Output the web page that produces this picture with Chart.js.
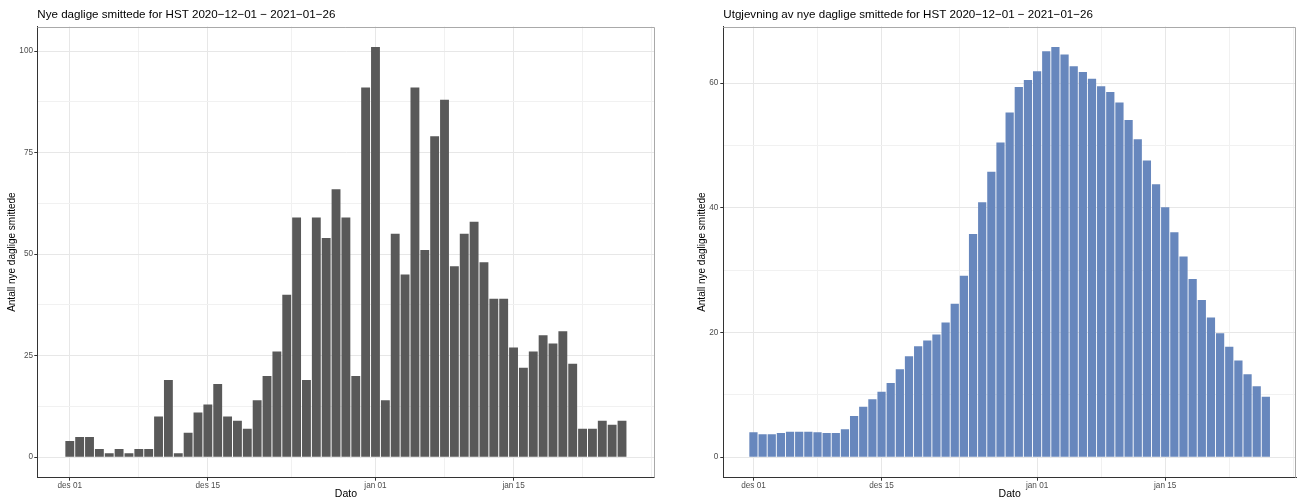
<!DOCTYPE html>
<html>
<head>
<meta charset="utf-8">
<script src="https://cdn.jsdelivr.net/npm/chart.js@4.4.1/dist/chart.umd.min.js"></script>
<style>
  html, body { margin: 0; padding: 0; background: #ffffff; }
  #wrap { position: relative; width: 1298px; height: 501px; }
  .panel { position: absolute; top: 0; height: 501px; }
  canvas { display: block; }
</style>
</head>
<body>
<div id="wrap">
  <div class="panel" style="left:0;width:660px"><canvas id="daily" width="660" height="501"></canvas></div>
  <div class="panel" style="left:660px;width:638px"><canvas id="smooth" width="638" height="501"></canvas></div>
</div>
<script>
// Reporting days
const dates = [
  '2020-12-01','2020-12-02','2020-12-03','2020-12-04','2020-12-05','2020-12-06','2020-12-07',
  '2020-12-08','2020-12-09','2020-12-10','2020-12-11','2020-12-12','2020-12-13','2020-12-14',
  '2020-12-15','2020-12-16','2020-12-17','2020-12-18','2020-12-19','2020-12-20','2020-12-21',
  '2020-12-22','2020-12-23','2020-12-24','2020-12-25','2020-12-26','2020-12-27','2020-12-28',
  '2020-12-29','2020-12-30','2020-12-31','2021-01-01','2021-01-02','2021-01-03','2021-01-04',
  '2021-01-05','2021-01-06','2021-01-07','2021-01-08','2021-01-09','2021-01-10','2021-01-11',
  '2021-01-12','2021-01-13','2021-01-14','2021-01-15','2021-01-16','2021-01-17','2021-01-18',
  '2021-01-19','2021-01-20','2021-01-21','2021-01-22','2021-01-23','2021-01-24','2021-01-25',
  '2021-01-26'
];

// New daily cases
const dailyCases = [
  4, 5, 5, 2, 1, 2, 1, 2, 2, 10, 19, 1, 6, 11,
  13, 18, 10, 9, 7, 14, 20, 26, 40, 59, 19, 59, 54, 66,
  59, 20, 91, 101, 14, 55, 45, 91, 51, 79, 88, 47, 55, 58,
  48, 39, 39, 27, 22, 26, 30, 28, 31, 23, 7, 7, 9, 8, 9
];

// Smoothed new daily cases
const smoothedCases = [
  4.0, 3.7, 3.7, 3.9, 4.1, 4.1, 4.1, 4.0, 3.9, 3.9, 4.5, 6.6, 8.1, 9.3,
  10.5, 11.9, 14.1, 16.2, 17.8, 18.7, 19.7, 21.6, 24.6, 29.1, 35.8, 40.9, 45.8, 50.5,
  55.3, 59.4, 60.5, 61.9, 65.1, 65.8, 64.6, 62.7, 61.8, 60.7, 59.5, 58.6, 56.9, 54.1,
  51.0, 47.6, 43.8, 40.1, 36.1, 32.2, 28.6, 25.2, 22.4, 19.9, 17.7, 15.5, 13.3, 11.4, 9.7
];

// Axis breaks
const xTickDates  = ['2020-12-01', '2020-12-15', '2021-01-01', '2021-01-15'];
const xTickLabels = ['des 01', 'des 15', 'jan 01', 'jan 15'];
const dailyYTicks  = [0, 25, 50, 75, 100];
const smoothYTicks = [0, 20, 40, 60];

const dailyTitle  = 'Nye daglige smittede for HST 2020\u221212\u221201 \u2212 2021\u221201\u221226';
const smoothTitle = 'Utgjevning av nye daglige smittede for HST 2020\u221212\u221201 \u2212 2021\u221201\u221226';
const yAxisTitle  = 'Antall nye daglige smittede';
const xAxisTitle  = 'Dato';

const FONT = "'Liberation Sans', Arial, Helvetica, sans-serif";
Chart.defaults.font.family = FONT;

const DAY = 86400000;
const day0 = Date.parse(dates[0]);
const dayIndex = d => Math.round((Date.parse(d) - day0) / DAY);

const BAR_WIDTH = 0.9;          // fraction of a day
const EXPAND = 0.05;            // 5% padding around the data range

// x range: bars span [first - w/2, last + w/2], padded by 5%
const xLo = dayIndex(dates[0]) - BAR_WIDTH / 2;
const xHi = dayIndex(dates[dates.length - 1]) + BAR_WIDTH / 2;
const xPad = (xHi - xLo) * EXPAND;
const xMin = xLo - xPad, xMax = xHi + xPad;

function yRange(values) {
  const hi = Math.max(...values);
  const pad = hi * EXPAND;
  return { min: -pad, max: hi + pad };
}

// major breaks plus minor breaks halfway between them (also one step beyond each end)
function withMinor(major, min, max) {
  const step = major[1] - major[0];
  const ext = [major[0] - step, ...major, major[major.length - 1] + step];
  const minor = [];
  for (let i = 0; i < ext.length - 1; i++) minor.push((ext[i] + ext[i + 1]) / 2);
  minor.push(ext[0], ext[ext.length - 1]);
  const ticks = major.map(v => ({ value: v, isMinor: false }));
  minor.forEach(v => { if (!major.includes(v)) ticks.push({ value: v, isMinor: true }); });
  return ticks.filter(t => t.value >= min && t.value <= max).sort((a, b) => a.value - b.value);
}

// panel outline (top/right) and the plot title
const panelFrame = {
  id: 'panelFrame',
  afterDraw(chart, args, opts) {
    const { ctx, chartArea: a } = chart;
    ctx.save();
    ctx.strokeStyle = '#a9a9a9';
    ctx.lineWidth = 1;
    const top = Math.round(a.top) + 0.5;
    const right = Math.round(a.right) - 0.5;
    ctx.beginPath();
    ctx.moveTo(a.left, top);
    ctx.lineTo(right, top);
    ctx.lineTo(right, a.bottom);
    ctx.stroke();
    ctx.fillStyle = '#000000';
    ctx.font = opts.font;
    ctx.textAlign = 'left';
    ctx.textBaseline = 'middle';
    ctx.fillText(opts.text, a.left, opts.y);
    ctx.restore();
  }
};

const gridColor = c => (c.tick && c.tick.isMinor) ? '#f1f1f1' : '#e7e7e7';
const tickColor = c => (c.tick && c.tick.isMinor) ? 'rgba(0,0,0,0)' : '#333333';

function makeChart(canvasId, values, colour, yTicks, title, cfg) {
  const yr = yRange(values);
  const xMajor = xTickDates.map(dayIndex);
  return new Chart(document.getElementById(canvasId), {
    type: 'bar',
    data: {
      datasets: [{
        data: dates.map((d, i) => ({ x: dayIndex(d), y: values[i] })),
        backgroundColor: colour,
        borderWidth: 0,
        barPercentage: BAR_WIDTH,
        categoryPercentage: 1.0
      }]
    },
    plugins: [panelFrame],
    options: {
      responsive: false,
      animation: false,
      devicePixelRatio: 1,
      events: [],
      layout: { padding: { top: 26.5, left: 0, right: cfg.rightPad, bottom: 0 } },
      plugins: {
        legend: { display: false },
        tooltip: { enabled: false },
        panelFrame: { text: title, font: `11.6px ${FONT}`, y: 15 }
      },
      scales: {
        x: {
          type: 'linear',
          min: xMin,
          max: xMax,
          offset: false,
          afterBuildTicks(scale) { scale.ticks = withMinor(xMajor, xMin, xMax); },
          afterFit(scale) { scale.height = 23.3; },
          ticks: {
            autoSkip: false,
            maxRotation: 0,
            padding: 0.5,
            color: '#4d4d4d',
            font: { size: 8.2 },
            callback(v, i, ticks) {
              if (ticks[i].isMinor) return '';
              return xTickLabels[xMajor.indexOf(v)];
            }
          },
          grid: { offset: false, color: gridColor, tickColor: tickColor, lineWidth: 1, tickLength: 3 },
          border: { display: true, color: '#333333', width: 1 },
          title: {
            display: true, text: xAxisTitle, color: '#000000',
            font: { size: 10.5 }, padding: { top: 0, bottom: 0.5 }
          }
        },
        y: {
          type: 'linear',
          min: yr.min,
          max: yr.max,
          afterBuildTicks(scale) { scale.ticks = withMinor(yTicks, yr.min, yr.max); },
          afterFit(scale) { scale.width = cfg.yWidth; },
          ticks: {
            autoSkip: false,
            padding: cfg.yLabelPad,
            color: '#4d4d4d',
            font: { size: 8.2 },
            callback(v, i, ticks) { return ticks[i].isMinor ? '' : String(v); }
          },
          grid: { color: gridColor, tickColor: tickColor, lineWidth: 1, tickLength: 3 },
          border: { display: true, color: '#333333', width: 1 },
          title: {
            display: true, text: yAxisTitle, color: '#000000',
            font: { size: 10 }, padding: { top: cfg.yTitlePad, bottom: 0 }
          }
        }
      }
    }
  });
}

makeChart('daily', dailyCases, '#595959', dailyYTicks, dailyTitle,
  { yWidth: 37.3, rightPad: 5.5, yLabelPad: 1.3, yTitlePad: 6.5 });
makeChart('smooth', smoothedCases, '#6787bd', smoothYTicks, smoothTitle,
  { yWidth: 63.3, rightPad: 2, yLabelPad: 2, yTitlePad: 36 });
</script>
</body>
</html>
